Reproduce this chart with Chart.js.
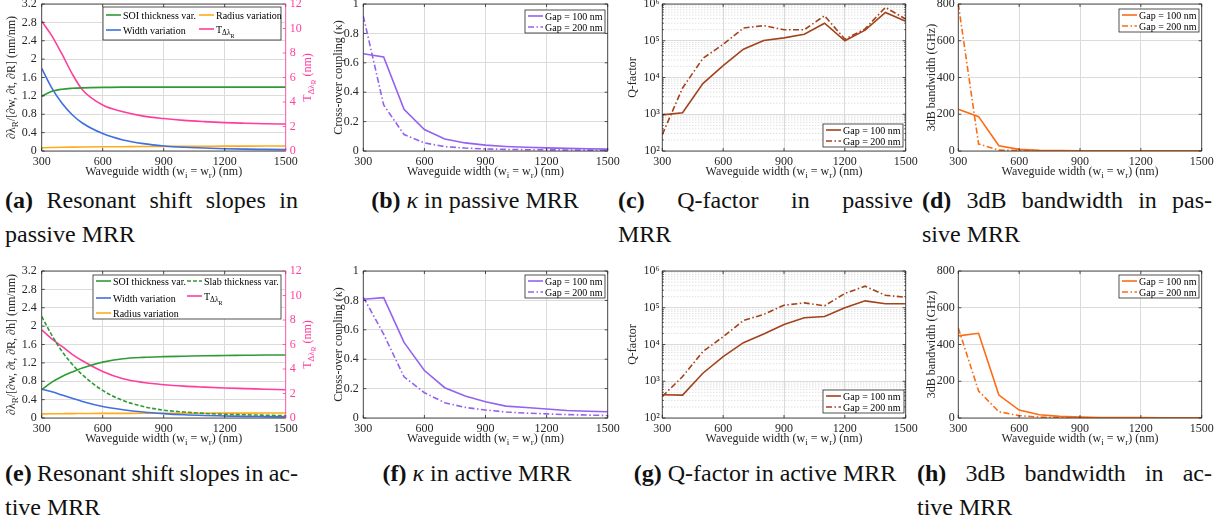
<!DOCTYPE html>
<html lang="en">
<head>
<meta charset="UTF-8">
<title>MRR waveguide width sweep</title>
<script src="https://cdn.jsdelivr.net/npm/chart.js"></script>
<style>
  body { margin: 0; width: 1223px; height: 529px; position: relative; overflow: hidden; background: #fff;
         font-family: 'Liberation Serif', 'Times New Roman', serif; color: #111; }
  canvas { position: absolute; }
  .cap { position: absolute; font-size: 24px; line-height: 34px; }
  .cap .j { text-align: justify; text-align-last: justify; }
  .cap.c { text-align: center; }
</style>
</head>
<body>
<div class="cap" style="left:5px;top:183px;width:293px">
  <div class="j"><b>(a)</b> Resonant shift slopes in</div>
  <div>passive MRR</div>
</div>
<div class="cap c" style="left:325px;top:183px;width:300px"><b>(b)</b> <i>κ</i> in passive MRR</div>
<div class="cap" style="left:618px;top:183px;width:295px">
  <div class="j"><b>(c)</b> Q-factor in passive</div>
  <div>MRR</div>
</div>
<div class="cap" style="left:922px;top:183px;width:290px">
  <div class="j"><b>(d)</b> 3dB bandwidth in pas-</div>
  <div>sive MRR</div>
</div>
<div class="cap" style="left:5px;top:456px;width:293px">
  <div class="j" style="word-spacing:-1px"><b>(e)</b> Resonant shift slopes in ac-</div>
  <div>tive MRR</div>
</div>
<div class="cap c" style="left:327px;top:456px;width:300px"><b>(f)</b> <i>κ</i> in active MRR</div>
<div class="cap c" style="left:617px;top:456px;width:296px"><b>(g)</b> Q-factor in active MRR</div>
<div class="cap" style="left:917px;top:456px;width:295px">
  <div class="j"><b>(h)</b> 3dB bandwidth in ac-</div>
  <div>tive MRR</div>
</div>

<script>
// waveguide widths (nm)
const widths = [300, 400, 500, 600, 700, 800, 900, 1000, 1100, 1200, 1300, 1400, 1500];
const widthsFine = [300, 350, 400, 450, 500, 600, 700, 800, 900, 1000, 1100, 1200, 1300, 1400, 1500];

// tick values / labels
const widthTicks = [300, 600, 900, 1200, 1500];
const slopeTicks = [0, 0.4, 0.8, 1.2, 1.6, 2, 2.4, 2.8, 3.2];
const tTicks = [0, 2, 4, 6, 8, 10, 12];
const kappaTicks = [0, 0.2, 0.4, 0.6, 0.8, 1];
const qTicks = [1e2, 1e3, 1e4, 1e5, 1e6];
const qLabels = ['10²', '10³', '10⁴', '10⁵', '10⁶'];
const bwTicks = [0, 200, 400, 600, 800];

// (a) passive resonant shift slopes
const passiveSoi = [1.19, 1.30, 1.345, 1.365, 1.375, 1.385, 1.39, 1.39, 1.39, 1.39, 1.39, 1.39, 1.39, 1.39, 1.39];
const passiveWidth = [1.80, 1.37, 1.04, 0.79, 0.61, 0.38, 0.24, 0.16, 0.11, 0.08, 0.065, 0.05, 0.04, 0.035, 0.03];
const passiveRadius = [0.07, 0.075, 0.08, 0.084, 0.087, 0.091, 0.094, 0.097, 0.1, 0.102, 0.104, 0.106, 0.107, 0.108, 0.11];
const passiveT = [10.6, 9.4, 7.9, 6.3, 5.0, 3.75, 3.2, 2.85, 2.65, 2.5, 2.4, 2.32, 2.27, 2.23, 2.2];

// (b) passive kappa
const passiveKappa100 = [0.662, 0.640, 0.283, 0.146, 0.082, 0.055, 0.040, 0.031, 0.025, 0.021, 0.018, 0.015, 0.013];
const passiveKappa200 = [0.918, 0.313, 0.112, 0.055, 0.030, 0.020, 0.014, 0.011, 0.009, 0.008, 0.007, 0.006, 0.005];

// (c) passive Q-factor
const passiveQ100 = [960, 1100, 6800, 21000, 59000, 102000, 120000, 150000, 300000, 100000, 195000, 590000, 340000];
const passiveQ200 = [280, 5200, 33000, 80000, 222000, 258000, 200000, 200000, 480000, 110000, 210000, 810000, 390000];

// (d) passive 3dB bandwidth (GHz)
const passiveBw100 = [227, 187, 29, 9, 4, 2, 1.5, 1.2, 1, 0.8, 0.7, 0.6, 0.5];
const passiveBw200 = [800, 38, 5, 2, 1, 0.8, 0.6, 0.5, 0.4, 0.4, 0.3, 0.3, 0.3];

// (e) active resonant shift slopes
const activeSoi = [0.615, 0.78, 0.905, 1.0, 1.086, 1.216, 1.29, 1.32, 1.335, 1.345, 1.355, 1.36, 1.365, 1.37, 1.37];
const activeSlab = [2.21, 1.80, 1.45, 1.17, 0.94, 0.60, 0.38, 0.25, 0.17, 0.13, 0.10, 0.08, 0.07, 0.06, 0.05];
const activeWidth = [0.63, 0.57, 0.50, 0.43, 0.36, 0.25, 0.18, 0.13, 0.095, 0.07, 0.055, 0.045, 0.035, 0.03, 0.025];
const activeRadius = [0.09, 0.092, 0.094, 0.096, 0.097, 0.1, 0.101, 0.102, 0.103, 0.104, 0.105, 0.106, 0.107, 0.108, 0.11];
const activeT = [7.2, 6.45, 5.84, 5.2, 4.67, 3.8, 3.2, 2.9, 2.72, 2.6, 2.52, 2.45, 2.4, 2.35, 2.3];

// (f) active kappa
const activeKappa100 = [0.808, 0.819, 0.514, 0.323, 0.206, 0.149, 0.111, 0.081, 0.071, 0.061, 0.051, 0.046, 0.043];
const activeKappa200 = [0.823, 0.57, 0.28, 0.172, 0.104, 0.072, 0.054, 0.041, 0.033, 0.028, 0.023, 0.02, 0.017];

// (g) active Q-factor
const activeQ100 = [430, 420, 1650, 4700, 11200, 19200, 35000, 53500, 57700, 100000, 154000, 128000, 128000];
const activeQ200 = [386, 1340, 6400, 16300, 45000, 66000, 117000, 136000, 113000, 244000, 385000, 218000, 193000];

// (h) active 3dB bandwidth (GHz)
const activeBw100 = [447, 461, 125, 43, 18, 9, 5, 3, 2.5, 2, 1.5, 1.2, 1];
const activeBw200 = [490, 147, 34, 13, 5, 3, 2, 1.5, 1.2, 1, 0.8, 0.6, 0.5];

const SERIF = "'Liberation Serif', 'Times New Roman', serif";
const INK = '#262626';
const GRID = '#dbdbdb';
const GREEN = '#2f9a36';
const BLUE = '#3f6fe0';
const AMBER = '#ffab1a';
const PINK = '#ff3d9e';
const PURPLE = '#9461f0';
const BROWN = '#a3431b';
const ORANGE = '#fb6c14';
const DASHDOT = [6, 2.5, 1.5, 2.5];

Chart.defaults.font.family = SERIF;
Chart.defaults.font.size = 12;
Chart.defaults.color = INK;

const xTitle = [['Waveguide width (w', 0], ['i', 1], [' = w', 0], ['r', 1], [') (nm)', 0]];
const tParts = [['T', 0], ['Δλ', 1], ['R', 2]];

const pts = (xs, ys) => xs.map((x, i) => ({ x: x, y: ys[i] }));

function line(label, xs, ys, color, extra) {
    return Object.assign({
        label: label, data: pts(xs, ys), borderColor: color, backgroundColor: color,
        borderWidth: 1.6, pointRadius: 0, tension: 0, fill: false
    }, extra || {});
}

// text with sub / sub-sub scripts
function rich(ctx, parts, x, y, size, align) {
    const scale = [1, 0.75, 0.6];
    const drop = [0, 0.28, 0.5];
    const font = lv => (size * scale[lv]) + 'px ' + SERIF;
    let w = 0;
    parts.forEach(([s, lv]) => { ctx.font = font(lv); w += ctx.measureText(s).width; });
    let cx = align === 'center' ? x - w / 2 : x;
    ctx.textAlign = 'left';
    ctx.textBaseline = 'alphabetic';
    parts.forEach(([s, lv]) => {
        ctx.font = font(lv);
        ctx.fillText(s, cx, y + size * drop[lv]);
        cx += ctx.measureText(s).width;
    });
}

// box, inward ticks, minor log grid, titles and legend
function decorFor(p) {
    return {
        id: 'decor',
        beforeDatasetsDraw(chart) {
            if (!p.minor) return;
            const { ctx, chartArea: a } = chart;
            const ys = chart.scales.y;
            ctx.save();
            ctx.strokeStyle = '#c6c6c6';
            ctx.lineWidth = 0.8;
            ctx.setLineDash([1, 2]);
            p.minor.forEach(v => {
                const py = ys.getPixelForValue(v);
                ctx.beginPath(); ctx.moveTo(a.left, py); ctx.lineTo(a.right, py); ctx.stroke();
            });
            ctx.restore();
        },
        afterDatasetsDraw(chart) {
            const { ctx, chartArea: a, scales } = chart;
            const ox = p.cx, oy = p.cy;
            ctx.save();
            ctx.lineWidth = 0.8;
            ctx.strokeStyle = INK;
            ctx.beginPath();
            ctx.moveTo(a.left, a.bottom); ctx.lineTo(a.left, a.top); ctx.lineTo(a.right, a.top);
            ctx.moveTo(a.left, a.bottom); ctx.lineTo(a.right, a.bottom);
            const tk = 3;
            scales.x.ticks.forEach(t => {
                const px = scales.x.getPixelForValue(t.value);
                ctx.moveTo(px, a.bottom); ctx.lineTo(px, a.bottom - tk);
                ctx.moveTo(px, a.top); ctx.lineTo(px, a.top + tk);
            });
            scales.y.ticks.forEach(t => {
                const py = scales.y.getPixelForValue(t.value);
                ctx.moveTo(a.left, py); ctx.lineTo(a.left + tk, py);
                if (!scales.y2) { ctx.moveTo(a.right, py); ctx.lineTo(a.right - tk, py); }
            });
            (p.minor || []).forEach(v => {
                const py = scales.y.getPixelForValue(v);
                ctx.moveTo(a.left, py); ctx.lineTo(a.left + 1.5, py);
                ctx.moveTo(a.right, py); ctx.lineTo(a.right - 1.5, py);
            });
            ctx.stroke();

            ctx.strokeStyle = scales.y2 ? PINK : INK;
            ctx.beginPath();
            ctx.moveTo(a.right, a.top); ctx.lineTo(a.right, a.bottom);
            if (scales.y2) {
                scales.y2.ticks.forEach(t => {
                    const py = scales.y2.getPixelForValue(t.value);
                    ctx.moveTo(a.right, py); ctx.lineTo(a.right - tk, py);
                });
            }
            ctx.stroke();

            // axis titles
            ctx.fillStyle = INK;
            rich(ctx, xTitle, (a.left + a.right) / 2, p.xTitleY - oy, 12, 'center');
            p.yTitles.forEach(t => {
                ctx.save();
                ctx.fillStyle = t.color || INK;
                ctx.translate(t.x - ox, (a.top + a.bottom) / 2);
                ctx.rotate(-Math.PI / 2);
                rich(ctx, t.parts, 0, 4, 12, 'center');
                ctx.restore();
            });

            // legend
            const lg = p.legend;
            const bx = lg.box[0] - ox, by = lg.box[1] - oy;
            ctx.fillStyle = '#fff';
            ctx.fillRect(bx, by, lg.box[2], lg.box[3]);
            ctx.strokeStyle = INK;
            ctx.lineWidth = 0.8;
            ctx.strokeRect(bx, by, lg.box[2], lg.box[3]);
            lg.items.forEach(it => {
                const ds = chart.data.datasets[it.ds];
                const x = bx + it.x, y = by + it.y;
                ctx.save();
                ctx.strokeStyle = ds.borderColor;
                ctx.lineWidth = ds.borderWidth;
                ctx.setLineDash(ds.borderDash || []);
                ctx.beginPath(); ctx.moveTo(x, y); ctx.lineTo(x + 15, y); ctx.stroke();
                ctx.restore();
                ctx.fillStyle = '#000';
                rich(ctx, it.parts || [[ds.label, 0]], x + 17, y + 3.5, 10, 'left');
            });
            ctx.restore();
        }
    };
}

const cols = {
    a: { cx: 0, cw: 316, L: 41.7, R: 285.7, pad: 5 },
    b: { cx: 315, cw: 310, L: 363.3, R: 607.7, pad: 4.5 },
    c: { cx: 610, cw: 315, L: 662.3, R: 905.7, pad: 2.5 },
    d: { cx: 912, cw: 311, L: 958.3, R: 1201.7, pad: 3.5 }
};
const rows = {
    top: { cy: 0, ch: 186, T: 4, B: 151, xTitleY: 175 },
    bottom: { cy: 255, ch: 192, T: 271, B: 418, xTitleY: 442 }
};

const fixTicks = vals => s => { s.ticks = vals.map(v => ({ value: v })); };
const numFmt = v => String(+v.toFixed(2));

function panel(col, row, spec) {
    const c = cols[col], r = rows[row];
    const p = Object.assign({ cx: c.cx, cy: r.cy, xTitleY: r.xTitleY }, spec);
    const canvas = document.createElement('canvas');
    canvas.width = c.cw;
    canvas.height = r.ch;
    canvas.style.left = c.cx + 'px';
    canvas.style.top = r.cy + 'px';
    document.body.appendChild(canvas);

    const scales = {
        x: {
            type: 'linear', min: 300, max: 1500,
            afterBuildTicks: fixTicks(widthTicks),
            ticks: { autoSkip: false, maxRotation: 0, padding: 4, callback: v => String(v) },
            grid: { color: GRID, drawTicks: false },
            border: { display: false },
            afterFit: s => { s.height = r.cy + r.ch - r.B; s.paddingLeft = 0; s.paddingRight = 0; }
        },
        y: {
            type: spec.y.type || 'linear', position: 'left', min: spec.y.min, max: spec.y.max,
            afterBuildTicks: fixTicks(spec.y.ticks),
            ticks: { autoSkip: false, padding: c.pad, callback: spec.y.fmt || numFmt },
            grid: { color: GRID, drawTicks: false },
            border: { display: false },
            afterFit: s => { s.width = c.L - c.cx; s.paddingTop = 0; s.paddingBottom = 0; }
        }
    };
    if (spec.y2) {
        scales.y2 = {
            type: 'linear', position: 'right', min: spec.y2.min, max: spec.y2.max,
            afterBuildTicks: fixTicks(spec.y2.ticks),
            ticks: { autoSkip: false, padding: 4, color: PINK, callback: numFmt },
            grid: { drawOnChartArea: false, drawTicks: false },
            border: { display: false },
            afterFit: s => { s.width = c.cx + c.cw - c.R; s.paddingTop = 0; s.paddingBottom = 0; }
        };
    }

    new Chart(canvas, {
        type: 'line',
        data: { datasets: spec.datasets },
        options: {
            responsive: false, animation: false, events: [],
            layout: { padding: { top: r.T - r.cy, left: 0, bottom: 0, right: spec.y2 ? 0 : c.cx + c.cw - c.R } },
            scales: scales,
            plugins: { legend: { display: false }, tooltip: { enabled: false } }
        },
        plugins: [decorFor(p)]
    });
}

const smooth = { cubicInterpolationMode: 'monotone' };
const qMinor = [];
qTicks.slice(0, -1).forEach(d => { for (let m = 2; m <= 9; m++) qMinor.push(m * d); });
const qFmt = (v, i) => qLabels[i];

// (a)
panel('a', 'top', {
    datasets: [
        line('SOI thickness var.', widthsFine, passiveSoi, GREEN, smooth),
        line('Width variation', widthsFine, passiveWidth, BLUE, smooth),
        line('Radius variation', widthsFine, passiveRadius, AMBER, smooth),
        line('T Δλ R', widthsFine, passiveT, PINK, Object.assign({ yAxisID: 'y2' }, smooth))
    ],
    y: { min: 0, max: 3.2, ticks: slopeTicks },
    y2: { min: 0, max: 12, ticks: tTicks },
    yTitles: [
        { x: 11, parts: [['∂λ', 0], ['R', 1], ['/[∂w, ∂t, ∂R] (nm/nm)', 0]] },
        { x: 307, parts: tParts.concat([[' (nm)', 0]]), color: PINK }
    ],
    legend: { box: [103, 7, 178, 33], items: [
        { ds: 0, x: 3, y: 8 }, { ds: 2, x: 96, y: 8 },
        { ds: 1, x: 3, y: 23 }, { ds: 3, x: 96, y: 22, parts: tParts }
    ] }
});

// (b)
panel('b', 'top', {
    datasets: [
        line('Gap = 100 nm', widths, passiveKappa100, PURPLE),
        line('Gap = 200 nm', widths, passiveKappa200, PURPLE, { borderDash: DASHDOT })
    ],
    y: { min: 0, max: 1, ticks: kappaTicks },
    yTitles: [{ x: 338, parts: [['Cross-over coupling (κ)', 0]] }],
    legend: { box: [525, 10, 80, 23], items: [{ ds: 0, x: 3, y: 6 }, { ds: 1, x: 3, y: 17 }] }
});

// (c)
panel('c', 'top', {
    datasets: [
        line('Gap = 100 nm', widths, passiveQ100, BROWN),
        line('Gap = 200 nm', widths, passiveQ200, BROWN, { borderDash: DASHDOT })
    ],
    y: { type: 'logarithmic', min: 1e2, max: 1e6, ticks: qTicks, fmt: qFmt },
    minor: qMinor,
    yTitles: [{ x: 632, parts: [['Q-factor', 0]] }],
    legend: { box: [823, 124, 80, 23], items: [{ ds: 0, x: 3, y: 6 }, { ds: 1, x: 3, y: 17 }] }
});

// (d)
panel('d', 'top', {
    datasets: [
        line('Gap = 100 nm', widths, passiveBw100, ORANGE),
        line('Gap = 200 nm', widths, passiveBw200, ORANGE, { borderDash: DASHDOT })
    ],
    y: { min: 0, max: 800, ticks: bwTicks },
    yTitles: [{ x: 931, parts: [['3dB bandwidth (GHz)', 0]] }],
    legend: { box: [1119, 9, 80, 23], items: [{ ds: 0, x: 3, y: 6 }, { ds: 1, x: 3, y: 17 }] }
});

// (e)
panel('a', 'bottom', {
    datasets: [
        line('SOI thickness var.', widthsFine, activeSoi, GREEN, smooth),
        line('Slab thickness var.', widthsFine, activeSlab, GREEN, Object.assign({ borderDash: [4, 2] }, smooth)),
        line('Width variation', widthsFine, activeWidth, BLUE, smooth),
        line('Radius variation', widthsFine, activeRadius, AMBER, smooth),
        line('T Δλ R', widthsFine, activeT, PINK, Object.assign({ yAxisID: 'y2' }, smooth))
    ],
    y: { min: 0, max: 3.2, ticks: slopeTicks },
    y2: { min: 0, max: 12, ticks: tTicks },
    yTitles: [
        { x: 11, parts: [['∂λ', 0], ['R', 1], ['/[∂w, ∂t, ∂R, ∂h] (nm/nm)', 0]] },
        { x: 307, parts: tParts.concat([[' (nm)', 0]]), color: PINK }
    ],
    legend: { box: [93, 275, 188, 44], items: [
        { ds: 0, x: 3, y: 6 }, { ds: 1, x: 94, y: 6 },
        { ds: 2, x: 3, y: 23 }, { ds: 4, x: 94, y: 21, parts: tParts },
        { ds: 3, x: 3, y: 38 }
    ] }
});

// (f)
panel('b', 'bottom', {
    datasets: [
        line('Gap = 100 nm', widths, activeKappa100, PURPLE),
        line('Gap = 200 nm', widths, activeKappa200, PURPLE, { borderDash: DASHDOT })
    ],
    y: { min: 0, max: 1, ticks: kappaTicks },
    yTitles: [{ x: 338, parts: [['Cross-over coupling (κ)', 0]] }],
    legend: { box: [525, 275, 80, 23], items: [{ ds: 0, x: 3, y: 6 }, { ds: 1, x: 3, y: 17 }] }
});

// (g)
panel('c', 'bottom', {
    datasets: [
        line('Gap = 100 nm', widths, activeQ100, BROWN),
        line('Gap = 200 nm', widths, activeQ200, BROWN, { borderDash: DASHDOT })
    ],
    y: { type: 'logarithmic', min: 1e2, max: 1e6, ticks: qTicks, fmt: qFmt },
    minor: qMinor,
    yTitles: [{ x: 632, parts: [['Q-factor', 0]] }],
    legend: { box: [823, 390, 81, 23], items: [{ ds: 0, x: 3, y: 6 }, { ds: 1, x: 3, y: 17 }] }
});

// (h)
panel('d', 'bottom', {
    datasets: [
        line('Gap = 100 nm', widths, activeBw100, ORANGE),
        line('Gap = 200 nm', widths, activeBw200, ORANGE, { borderDash: DASHDOT })
    ],
    y: { min: 0, max: 800, ticks: bwTicks },
    yTitles: [{ x: 931, parts: [['3dB bandwidth (GHz)', 0]] }],
    legend: { box: [1119, 275, 80, 23], items: [{ ds: 0, x: 3, y: 6 }, { ds: 1, x: 3, y: 17 }] }
});
</script>
</body>
</html>
